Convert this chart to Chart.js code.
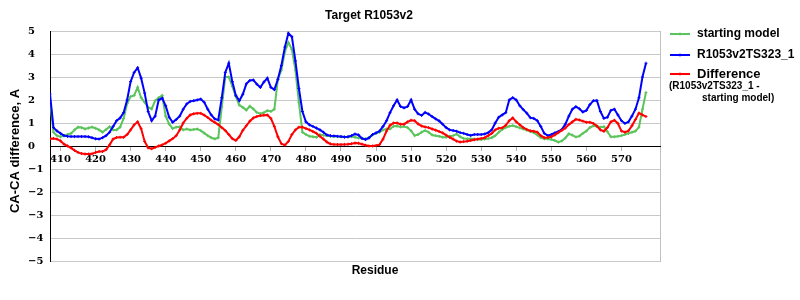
<!DOCTYPE html>
<html>
<head>
<meta charset="utf-8">
<title>Target R1053v2</title>
<script src="https://cdn.jsdelivr.net/npm/chart.js@4.4.1/dist/chart.umd.min.js"></script>
<style>
  html, body { margin: 0; padding: 0; background: #fff; }
</style>
</head>
<body>
<canvas id="caChart" width="800" height="300"></canvas>
<script>
// Residue numbers (x categories) 407..577
const firstResidue = 407, lastResidue = 577;
const residues = Array.from({ length: lastResidue - firstResidue + 1 }, (_, i) => firstResidue + i);

const xTicks = [410, 420, 430, 440, 450, 460, 470, 480, 490, 500, 510, 520, 530, 540, 550, 560, 570];
const yTicks = [-5, -4, -3, -2, -1, 0, 1, 2, 3, 4, 5];

// starting model
const startingModel = [
  1.97, 0.60, 0.45, 0.40, 0.45, 0.50, 0.55, 0.70, 0.82, 0.80, // 407-416
  0.74, 0.78, 0.82, 0.77, 0.70, 0.60, 0.72, 0.84, 0.70, 0.70, // 417-426
  0.82, 1.20, 1.85, 2.15, 2.20, 2.55, 2.10, 1.90, 1.68, 1.61, // 427-436
  1.97, 2.10, 2.20, 1.30, 0.95, 0.76, 0.82, 0.84, 0.70, 0.74, // 437-446
  0.70, 0.72, 0.74, 0.67, 0.56, 0.45, 0.36, 0.31, 0.36, 1.70, // 447-456
  3.00, 3.00, 2.60, 2.15, 1.78, 1.68, 1.56, 1.73, 1.61, 1.46, // 457-466
  1.40, 1.45, 1.54, 1.50, 1.60, 2.90, 3.30, 4.10, 4.50, 4.20, // 467-476
  3.30, 1.90, 0.60, 0.50, 0.42, 0.40, 0.38, 0.50, 0.47, 0.45, // 477-486
  0.42, 0.41, 0.41, 0.40, 0.38, 0.40, 0.41, 0.38, 0.35, 0.33, // 487-496
  0.31, 0.37, 0.48, 0.55, 0.60, 0.70, 0.74, 0.74, 0.86, 0.87, // 497-506
  0.83, 0.85, 0.80, 0.66, 0.45, 0.50, 0.60, 0.67, 0.60, 0.48, // 507-516
  0.45, 0.42, 0.38, 0.38, 0.42, 0.45, 0.52, 0.40, 0.33, 0.31, // 517-526
  0.31, 0.30, 0.28, 0.28, 0.30, 0.32, 0.36, 0.45, 0.60, 0.72, // 527-536
  0.80, 0.86, 0.89, 0.84, 0.79, 0.74, 0.69, 0.63, 0.58, 0.48, // 537-546
  0.36, 0.31, 0.31, 0.28, 0.24, 0.17, 0.22, 0.35, 0.53, 0.47, // 547-556
  0.39, 0.43, 0.55, 0.65, 0.80, 0.88, 0.85, 0.82, 0.84, 0.62, // 557-566
  0.40, 0.40, 0.42, 0.45, 0.50, 0.55, 0.60, 0.65, 0.82, 1.60, // 567-576
  2.33                                                        // 577
];

// R1053v2TS323_1
const modelTS323 = [
  2.26, 0.80, 0.65, 0.55, 0.45, 0.42, 0.41, 0.41, 0.41, 0.41, // 407-416
  0.41, 0.40, 0.36, 0.31, 0.30, 0.36, 0.45, 0.60, 0.85, 1.10, // 417-426
  1.22, 1.45, 2.00, 2.80, 3.20, 3.40, 2.95, 2.30, 1.50, 1.10, // 427-436
  1.30, 2.00, 2.08, 1.75, 1.25, 1.03, 1.15, 1.30, 1.60, 1.83, // 437-446
  1.94, 1.97, 2.00, 2.04, 1.90, 1.60, 1.35, 1.18, 1.13, 2.10, // 447-456
  3.20, 3.60, 2.80, 2.20, 1.97, 2.25, 2.70, 2.85, 2.87, 2.69, // 457-466
  2.55, 2.78, 2.95, 2.55, 2.45, 2.90, 3.50, 4.30, 4.90, 4.75, // 467-476
  3.70, 2.50, 1.50, 1.05, 0.92, 0.85, 0.78, 0.70, 0.60, 0.48, // 477-486
  0.45, 0.44, 0.42, 0.41, 0.39, 0.40, 0.45, 0.52, 0.48, 0.33, // 487-496
  0.28, 0.35, 0.50, 0.57, 0.65, 0.85, 1.10, 1.45, 1.75, 2.00, // 497-506
  1.72, 1.66, 1.72, 2.00, 1.60, 1.40, 1.33, 1.46, 1.39, 1.28, // 507-516
  1.18, 1.09, 0.95, 0.80, 0.70, 0.67, 0.64, 0.58, 0.55, 0.50, // 517-526
  0.46, 0.50, 0.50, 0.50, 0.52, 0.58, 0.70, 1.00, 1.25, 1.35, // 527-536
  1.45, 2.00, 2.10, 2.00, 1.75, 1.58, 1.43, 1.23, 1.20, 1.10, // 537-546
  0.85, 0.55, 0.45, 0.50, 0.57, 0.63, 0.72, 0.95, 1.30, 1.60, // 547-556
  1.71, 1.62, 1.48, 1.55, 1.80, 1.97, 1.98, 1.50, 1.20, 1.25, // 557-566
  1.55, 1.60, 1.35, 1.10, 0.98, 1.05, 1.30, 1.60, 2.10, 3.00, // 567-576
  3.60                                                        // 577
];

// Difference (R1053v2TS323_1 - starting model)
const difference = [
  0.31, 0.33, 0.30, 0.22, 0.08, 0.00, -0.08, -0.19, -0.28, -0.33, // 407-416
  -0.35, -0.35, -0.34, -0.28, -0.24, -0.24, -0.16, 0.05, 0.30, 0.37, // 417-426
  0.38, 0.38, 0.50, 0.70, 0.92, 1.05, 0.75, 0.20, -0.08, -0.12, // 427-436
  -0.06, 0.00, 0.05, 0.12, 0.22, 0.32, 0.45, 0.70, 1.00, 1.20, // 437-446
  1.35, 1.40, 1.42, 1.42, 1.34, 1.24, 1.12, 1.03, 0.93, 0.80, // 447-456
  0.67, 0.50, 0.32, 0.24, 0.40, 0.68, 0.88, 1.08, 1.22, 1.28, // 457-466
  1.32, 1.34, 1.35, 1.20, 0.85, 0.40, 0.10, 0.04, 0.20, 0.50, // 467-476
  0.70, 0.82, 0.82, 0.76, 0.70, 0.63, 0.55, 0.42, 0.30, 0.17, // 477-486
  0.09, 0.07, 0.06, 0.06, 0.07, 0.08, 0.10, 0.13, 0.12, 0.08, // 487-496
  0.03, 0.00, 0.00, 0.02, 0.06, 0.30, 0.65, 0.90, 1.00, 1.00, // 497-506
  0.95, 0.95, 1.05, 1.12, 1.10, 0.96, 0.87, 0.83, 0.80, 0.74, // 507-516
  0.69, 0.63, 0.57, 0.47, 0.38, 0.30, 0.21, 0.17, 0.19, 0.21, // 517-526
  0.24, 0.27, 0.30, 0.33, 0.36, 0.45, 0.55, 0.70, 0.77, 0.79, // 527-536
  0.90, 1.10, 1.22, 1.05, 0.92, 0.80, 0.72, 0.66, 0.64, 0.60, // 537-546
  0.45, 0.36, 0.37, 0.40, 0.48, 0.58, 0.68, 0.78, 0.93, 1.05, // 547-556
  1.16, 1.13, 1.08, 1.03, 1.03, 0.98, 0.87, 0.70, 0.64, 0.80, // 557-566
  1.05, 1.12, 0.98, 0.65, 0.60, 0.66, 0.88, 1.15, 1.43, 1.35, // 567-576
  1.28                                                        // 577
];

const greenColor = '#5cc45c',
  blueColor = '#0000ff',
  redColor = '#ff0000';

const sansBold = 'bold 12px "Liberation Sans", Arial, sans-serif';

function toPoints(values) {
  return residues.map((r, i) => ({ x: r, y: values[i] }));
}

function lineSet(label, values, color, order) {
  return {
    label: label,
    data: toPoints(values),
    borderColor: color,
    backgroundColor: color,
    borderWidth: 2,
    pointStyle: 'cross',
    pointRadius: 1.5,
    pointBorderWidth: 1,
    tension: 0,
    order: order
  };
}

// Texts, frame and legend drawn around the plot
const decorPlugin = {
  id: 'decor',
  beforeDraw(chart) {
    const { ctx, chartArea: a } = chart;
    ctx.save();
    ctx.fillStyle = '#fff';
    ctx.fillRect(0, 0, chart.width, chart.height);
    ctx.strokeStyle = '#c0c0c0';
    ctx.lineWidth = 1;
    ctx.strokeRect(Math.round(a.left) + 0.5, Math.round(a.top) + 0.5,
      Math.round(a.right - a.left), Math.round(a.bottom - a.top));
    ctx.restore();
  },
  afterDraw(chart) {
    const ctx = chart.ctx;
    ctx.save();
    ctx.fillStyle = '#000';
    ctx.font = sansBold;
    ctx.textBaseline = 'middle';
    ctx.textAlign = 'center';
    ctx.fillText('Target R1053v2', 369, 16);
    ctx.fillText('Residue', 375, 271);

    ctx.save();
    ctx.translate(15, 151);
    ctx.rotate(-Math.PI / 2);
    ctx.font = 'bold 13px "Liberation Sans", Arial, sans-serif';
    ctx.fillText('CA-CA difference, A', 0, 0);
    ctx.restore();

    // legend
    const items = [
      { text: 'starting model', color: greenColor, y: 34, size: 12 },
      { text: 'R1053v2TS323_1', color: blueColor, y: 55, size: 12 },
      { text: 'Difference', color: redColor, y: 74, size: 13 }
    ];
    ctx.textAlign = 'left';
    items.forEach(it => {
      ctx.strokeStyle = it.color;
      ctx.lineWidth = 2;
      ctx.beginPath();
      ctx.moveTo(670, it.y);
      ctx.lineTo(690, it.y);
      ctx.stroke();
      ctx.lineWidth = 1;
      ctx.beginPath();
      ctx.moveTo(680, it.y - 1.5);
      ctx.lineTo(680, it.y + 1.5);
      ctx.stroke();
      ctx.font = 'bold ' + it.size + 'px "Liberation Sans", Arial, sans-serif';
      ctx.fillText(it.text, 697, it.y);
    });
    ctx.font = 'bold 10px "Liberation Sans", Arial, sans-serif';
    ctx.fillText('(R1053v2TS323_1 -', 669, 86);
    ctx.fillText('starting model)', 702, 98);
    ctx.restore();
  }
};

const tickFont = { family: '"DejaVu Serif", serif', size: 10, weight: 'bold' };

const chartOptions = {
  type: 'line',
  data: {
    datasets: [
      lineSet('starting model', startingModel, greenColor, 3),
      lineSet('R1053v2TS323_1', modelTS323, blueColor, 2),
      lineSet('Difference', difference, redColor, 1)
    ]
  },
  options: {
    responsive: false,
    animation: false,
    layout: {
      padding: { left: 28, right: 140, top: 31, bottom: 39 }
    },
    plugins: {
      legend: { display: false },
      title: { display: false },
      tooltip: { enabled: false }
    },
    scales: {
      x: {
        type: 'linear',
        position: { y: 0 },
        min: 407,
        max: 581,
        afterBuildTicks: scale => {
          scale.ticks = xTicks.map(v => ({ value: v }));
        },
        grid: {
          drawOnChartArea: false,
          drawTicks: true,
          tickLength: 4,
          color: '#b0b0b0'
        },
        border: { color: '#000', width: 1 },
        ticks: {
          color: '#000',
          font: tickFont,
          padding: 3,
          maxRotation: 0,
          autoSkip: false
        }
      },
      y: {
        type: 'linear',
        min: -5,
        max: 5,
        afterBuildTicks: scale => {
          scale.ticks = yTicks.map(v => ({ value: v }));
        },
        afterFit: scale => {
          scale.width = 22;
        },
        grid: {
          color: '#c8c8c8',
          drawTicks: false
        },
        border: { color: '#000', width: 1 },
        ticks: {
          color: '#000',
          font: tickFont,
          crossAlign: 'far',
          padding: 0,
          callback: v => (v < 0 ? '\u2212' + Math.abs(v) : String(v))
        }
      }
    }
  },
  plugins: [decorPlugin]
};

const caChart = new Chart(document.getElementById('caChart'), chartOptions);
</script>
</body>
</html>
